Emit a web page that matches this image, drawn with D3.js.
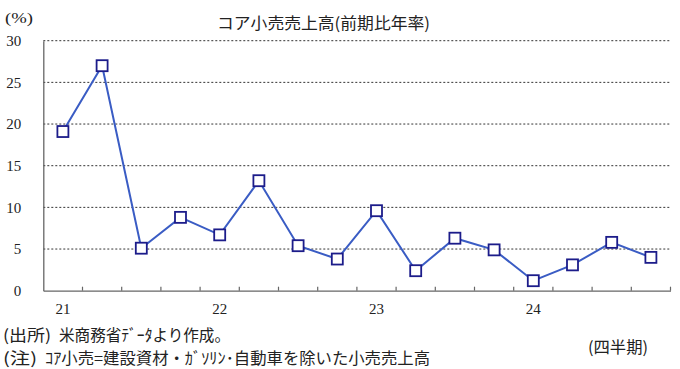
<!DOCTYPE html>
<html>
<head>
<meta charset="utf-8">
<script src="https://cdn.jsdelivr.net/npm/d3@7"></script>
<style>
  body { margin: 0; background: #fff; }
  svg { display: block; }
</style>
</head>
<body>
<script>
// quarterly data, 2021Q1 .. 2024Q4
const quarters = d3.range(16);
const values = [19.1, 27.0, 5.1, 8.8, 6.7, 13.2, 5.4, 3.8, 9.6, 2.4, 6.3, 4.9, 1.2, 3.1, 5.8, 4.0];
const yearLabels = ['21', '22', '23', '24'];
const yTicks = [0, 5, 10, 15, 20, 25, 30];

const width = 680;
const height = 369;
const margin = {top: 40.7, bottom: 78.3, left: 43.3, right: 9.5};
const serif = '"Liberation Serif", Tinos, "Times New Roman", "DejaVu Serif", serif';
const jp = '"Noto Sans CJK JP", sans-serif';

const svg = d3.select('body').append('svg')
    .attr('width', width)
    .attr('height', height);

const x = d3.scaleBand()
    .domain(quarters)
    .range([margin.left, width - margin.right]);

const y = d3.scaleLinear()
    .domain([0, 30])
    .range([height - margin.bottom, margin.top]);

// dotted gridlines
svg.append('g')
    .selectAll('line')
    .data(yTicks.filter(d => d > 0))
    .join('line')
        .attr('x1', margin.left)
        .attr('x2', width - margin.right)
        .attr('y1', d => y(d))
        .attr('y2', d => y(d))
        .attr('stroke', '#333')
        .attr('stroke-width', 1)
        .attr('stroke-dasharray', '2,2');

// y axis
svg.append('g')
    .attr('transform', `translate(${margin.left}, 0)`)
    .call(d3.axisLeft(y).tickValues(yTicks).tickSize(0).tickPadding(22))
    .call(g => g.select('.domain').attr('stroke', '#666').attr('stroke-width', 1.3))
    .call(g => g.selectAll('text')
        .style('font-family', serif)
        .style('font-size', '15px')
        .attr('fill', '#222'));

// x axis: ticks point up from the baseline
svg.append('g')
    .attr('transform', `translate(0, ${y(0)})`)
    .call(d3.axisBottom(x).tickValues([]).tickSizeOuter(0))
    .call(g => g.select('.domain').attr('stroke', '#666').attr('stroke-width', 1.3));

svg.append('g')
    .selectAll('line')
    .data(quarters.slice(1).concat([16]))
    .join('line')
        .attr('x1', d => margin.left + d * x.step())
        .attr('x2', d => margin.left + d * x.step())
        .attr('y1', y(0))
        .attr('y2', y(0) - 4)
        .attr('stroke', '#666')
        .attr('stroke-width', 1.2);

svg.append('g')
    .selectAll('text')
    .data(yearLabels)
    .join('text')
        .attr('x', (d, i) => x(i * 4) + x.bandwidth() / 2)
        .attr('y', 314)
        .attr('text-anchor', 'middle')
        .style('font-family', serif)
        .style('font-size', '15px')
        .attr('fill', '#222')
        .text(d => d);

// line and markers
const line = d3.line()
    .x((d, i) => x(i) + x.bandwidth() / 2)
    .y(d => y(d));

svg.append('path')
    .datum(values)
    .attr('fill', 'none')
    .attr('stroke', '#3a5cc4')
    .attr('stroke-width', 2)
    .attr('d', line);

svg.append('g')
    .selectAll('rect')
    .data(values)
    .join('rect')
        .attr('x', (d, i) => x(i) + x.bandwidth() / 2 - 5.5)
        .attr('y', d => y(d) - 5.5)
        .attr('width', 11)
        .attr('height', 11)
        .attr('fill', '#fff')
        .attr('stroke', '#1c1c8a')
        .attr('stroke-width', 1.8);

// texts
function label(tx, ty, str, font, size, len, anchor) {
    const t = svg.append('text')
        .attr('x', tx).attr('y', ty)
        .attr('text-anchor', anchor || 'start')
        .style('font-family', font)
        .style('font-size', size + 'px')
        .attr('fill', '#222')
        .text(str);
    if (len) t.attr('textLength', len).attr('lengthAdjust', 'spacingAndGlyphs');
    return t;
}

label(5, 23, '(%)', serif, 15, 28);
label(217, 29, 'コア小売売上高(前期比年率)', jp, 16, 213);
label(3, 341, '(出所)', jp, 16, 48);
label(59, 341, '米商務省ﾃﾞｰﾀより作成。', jp, 16, 171);
label(3, 364, '(注)', jp, 16, 34);
label(45, 364, 'ｺｱ小売=建設資材・ｶﾞｿﾘﾝ･自動車を除いた小売売上高', jp, 16, 385);
label(588, 353, '(四半期)', jp, 16, 60);
</script>
</body>
</html>
